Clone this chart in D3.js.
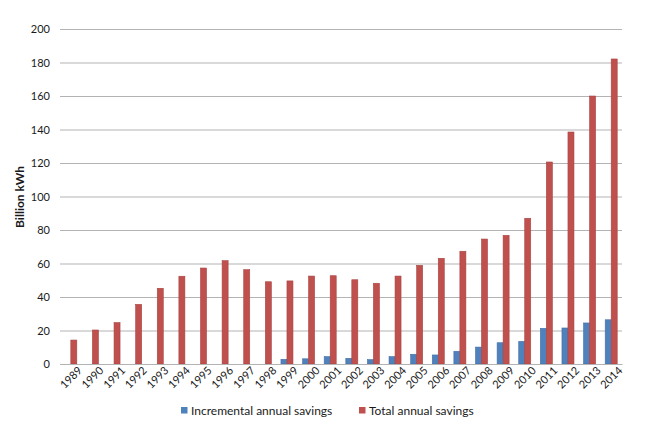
<!DOCTYPE html>
<html><head><meta charset="utf-8">
<script src="https://cdn.jsdelivr.net/npm/d3@7"></script>
<style>body{margin:0;background:#fff}svg{display:block}text{font-family:Lato,"Open Sans",sans-serif;fill:#1a1a1a}</style>
</head><body><svg id="c" width="650" height="428"></svg>
<script>
const years = ["1989","1990","1991","1992","1993","1994","1995","1996","1997","1998","1999","2000","2001","2002","2003","2004","2005","2006","2007","2008","2009","2010","2011","2012","2013","2014"];
const incremental = [0,0,0,0,0,0,0,0,0,0,2.8,3.1,4.4,3.4,2.6,4.4,5.8,5.4,7.6,10.1,12.7,13.5,21.3,21.5,24.5,26.4];
const total = [14.3,20.3,24.7,35.6,45.2,52.4,57.3,61.7,56.3,49.1,49.6,52.5,52.7,50.3,48.2,52.5,58.9,63.1,67.3,74.6,76.8,87,120.6,138.5,160,182.1];
const seriesNames = ["Incremental annual savings","Total annual savings"];
const seriesKeys = ["inc","tot"];
const colors = ["#4f81bd","#c0504d"];
const yTicks = [0,20,40,60,80,100,120,140,160,180,200];

const svg = d3.select("#c");
const L=60,R=622,T=29,B=364;
const x0 = d3.scaleBand().domain(years).range([L,R]).padding(0);
const x1 = d3.scaleBand().domain(seriesKeys).range([0,x0.bandwidth()]).paddingInner(0).paddingOuter(0.8);
const y = d3.scaleLinear().domain([0,200]).range([B,T]);

// grid
const yAxis = d3.axisLeft(y).tickValues(yTicks).tickSize(-(R-L)).tickPadding(10).tickFormat(d3.format("d"));
const gy = svg.append("g").attr("transform",`translate(${L},0)`).call(yAxis);
gy.select(".domain").remove();
gy.selectAll(".tick line").attr("stroke","#b3b3b3").attr("stroke-width",1.2);
gy.selectAll(".tick text").style("font-size","11px").attr("fill","#1a1a1a");

const data = years.map((yr,i)=>({yr, inc:incremental[i], tot:total[i]}));
const g = svg.append("g");
data.forEach(d=>{
  seriesKeys.forEach((k,j)=>{
    if(d[k]<=0) return;
    g.append("rect")
     .attr("x", x0(d.yr)+x1(k))
     .attr("y", y(d[k]))
     .attr("width", x1.bandwidth())
     .attr("height", y(0)-y(d[k]))
     .attr("fill", colors[j])
     .attr("stroke", d3.color(colors[j]).darker(0.4))
     .attr("stroke-width",0.6);
  });
});

// x axis
const xAxis = d3.axisBottom(x0).tickSize(0).tickPadding(7);
const gx = svg.append("g").attr("transform",`translate(0,${B})`).call(xAxis);
gx.select(".domain").attr("stroke","#b3b3b3").attr("stroke-width",1.2);
gx.selectAll(".tick text")
  .style("font-size","11px")
  .attr("text-anchor","end")
  .attr("dx","0.3em").attr("dy","0.6em")
  .attr("transform","rotate(-45)");

// y label
svg.append("text").attr("transform","translate(24,197) rotate(-90)")
  .attr("text-anchor","middle").style("font-size","12px").style("font-weight","bold").text("Billion kWh");

// legend
const legX=[181,359];
seriesNames.forEach((n,i)=>{
  svg.append("rect").attr("x",legX[i]).attr("y",407).attr("width",6.5).attr("height",6.5).attr("fill",colors[i]);
  svg.append("text").attr("x",legX[i]+10).attr("y",415).style("font-size","12px").text(n);
});
</script></body></html>
